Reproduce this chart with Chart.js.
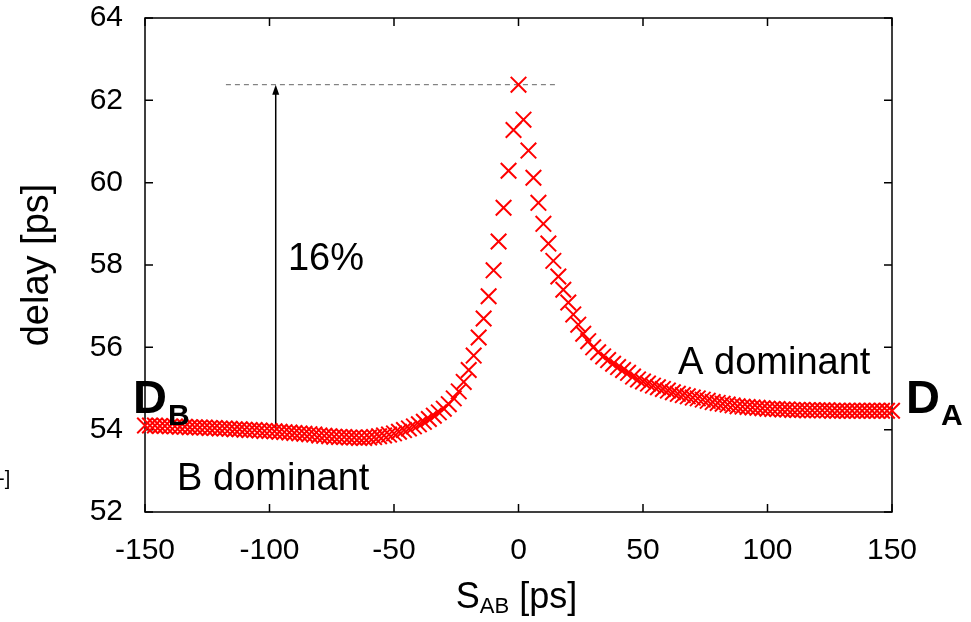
<!DOCTYPE html>
<html>
<head>
<meta charset="utf-8">
<script src="https://cdn.jsdelivr.net/npm/chart.js@4"></script>
<style>
  body { margin: 0; background: #fff; }
  #wrap { width: 971px; height: 622px; position: relative; }
</style>
</head>
<body>
<div id="wrap"><canvas id="delayChart"></canvas></div>
<script>
// skew S_AB [ps]
var skewValues = [
    -150, -148, -146, -144, -142, -140, -138, -136, -134, -132,
    -130, -128, -126, -124, -122, -120, -118, -116, -114, -112,
    -110, -108, -106, -104, -102, -100, -98, -96, -94, -92,
    -90, -88, -86, -84, -82, -80, -78, -76, -74, -72,
    -70, -68, -66, -64, -62, -60, -58, -56, -54, -52,
    -50, -48, -46, -44, -42, -40, -38, -36, -34, -32,
    -30, -28, -26, -24, -22, -20, -18, -16, -14, -12,
    -10, -8, -6, -4, -2, 0, 2, 4, 6, 8,
    10, 12, 14, 16, 18, 20, 22, 24, 26, 28,
    30, 32, 34, 36, 38, 40, 42, 44, 46, 48,
    50, 52, 54, 56, 58, 60, 62, 64, 66, 68,
    70, 72, 74, 76, 78, 80, 82, 84, 86, 88,
    90, 92, 94, 96, 98, 100, 102, 104, 106, 108,
    110, 112, 114, 116, 118, 120, 122, 124, 126, 128,
    130, 132, 134, 136, 138, 140, 142, 144, 146, 148,
    150
];

// delay [ps]
var delayValues = [
    54.10, 54.10, 54.10, 54.09, 54.09, 54.08, 54.08, 54.07, 54.07, 54.06,
    54.06, 54.05, 54.05, 54.04, 54.04, 54.03, 54.03, 54.02, 54.01, 54.01,
    54.00, 53.99, 53.99, 53.98, 53.97, 53.97, 53.96, 53.95, 53.94, 53.93,
    53.92, 53.91, 53.90, 53.89, 53.88, 53.86, 53.85, 53.84, 53.83, 53.82,
    53.82, 53.81, 53.81, 53.80, 53.80, 53.81, 53.82, 53.84, 53.86, 53.88,
    53.91, 53.95, 53.99, 54.03, 54.08, 54.13, 54.19, 54.26, 54.34, 54.42,
    54.51, 54.62, 54.76, 54.93, 55.16, 55.45, 55.80, 56.24, 56.70, 57.24,
    57.87, 58.57, 59.39, 60.29, 61.28, 62.38, 61.53, 60.78, 60.12, 59.51,
    59.00, 58.52, 58.10, 57.72, 57.40, 57.09, 56.80, 56.55, 56.33, 56.15,
    56.00, 55.88, 55.78, 55.69, 55.60, 55.52, 55.45, 55.38, 55.29, 55.22,
    55.17, 55.12, 55.07, 55.03, 54.99, 54.95, 54.91, 54.87, 54.84, 54.81,
    54.78, 54.76, 54.73, 54.70, 54.67, 54.65, 54.63, 54.61, 54.59, 54.57,
    54.56, 54.55, 54.54, 54.53, 54.52, 54.51, 54.50, 54.50, 54.49, 54.49,
    54.48, 54.48, 54.48, 54.47, 54.47, 54.47, 54.47, 54.47, 54.46, 54.46,
    54.46, 54.46, 54.46, 54.46, 54.46, 54.46, 54.46, 54.46, 54.46, 54.46,
    54.46
];

var xTicks = [-150, -100, -50, 0, 50, 100, 150];
var yTicks = [52, 54, 56, 58, 60, 62, 64];

var peakDelay = 62.38;
var baseDelay = 54.0;
var arrowSkew = -97.5;

var FONT = '"Liberation Sans", Arial, sans-serif';

var points = skewValues.map(function (x, i) { return { x: x, y: delayValues[i] }; });

// frame, inward ticks, arrow and labels (gnuplot look)
var decorations = {
    id: "decorations",
    beforeDatasetsDraw: function (chart) {
        var ctx = chart.ctx, a = chart.chartArea;
        var xs = chart.scales.x, ys = chart.scales.y;
        ctx.save();
        ctx.strokeStyle = "#000";
        ctx.lineWidth = 1.5;
        ctx.strokeRect(a.left, a.top, a.right - a.left, a.bottom - a.top);
        xTicks.forEach(function (t) {
            var px = xs.getPixelForValue(t);
            ctx.beginPath();
            ctx.moveTo(px, a.bottom); ctx.lineTo(px, a.bottom - 8);
            ctx.moveTo(px, a.top); ctx.lineTo(px, a.top + 8);
            ctx.stroke();
        });
        yTicks.forEach(function (t) {
            var py = ys.getPixelForValue(t);
            ctx.beginPath();
            ctx.moveTo(a.left, py); ctx.lineTo(a.left + 8, py);
            ctx.moveTo(a.right, py); ctx.lineTo(a.right - 8, py);
            ctx.stroke();
        });

        // dashed peak level
        var py = ys.getPixelForValue(peakDelay);
        ctx.strokeStyle = "#666";
        ctx.lineWidth = 1;
        ctx.setLineDash([5, 4]);
        ctx.beginPath();
        ctx.moveTo(xs.getPixelForValue(-117.5), py);
        ctx.lineTo(xs.getPixelForValue(16), py);
        ctx.stroke();
        ctx.setLineDash([]);

        // arrow
        var ax = xs.getPixelForValue(arrowSkew);
        var y0 = ys.getPixelForValue(baseDelay);
        ctx.strokeStyle = "#000";
        ctx.lineWidth = 1.5;
        ctx.beginPath();
        ctx.moveTo(ax, y0); ctx.lineTo(ax, py + 4);
        ctx.stroke();
        ctx.fillStyle = "#000";
        ctx.beginPath();
        ctx.moveTo(ax, py);
        ctx.lineTo(ax - 3.5, py + 10);
        ctx.lineTo(ax + 3.5, py + 10);
        ctx.closePath();
        ctx.fill();
        ctx.restore();
    },
    afterDraw: function (chart) {
        var ctx = chart.ctx, a = chart.chartArea;
        var xs = chart.scales.x, ys = chart.scales.y;
        ctx.save();
        ctx.fillStyle = "#000";
        ctx.textBaseline = "alphabetic";
        ctx.textAlign = "left";

        ctx.font = "38px " + FONT;
        ctx.fillText("16%", xs.getPixelForValue(-92.6), ys.getPixelForValue(57.88));
        ctx.fillText("B dominant", xs.getPixelForValue(-137.1), ys.getPixelForValue(52.53));
        ctx.fillText("A dominant", xs.getPixelForValue(64.1), ys.getPixelForValue(55.35));

        // D_B and D_A
        function subLabel(main, sub, x, y) {
            ctx.font = "bold 47px " + FONT;
            ctx.fillText(main, x, y);
            var w = ctx.measureText(main).width;
            ctx.font = "bold 30px " + FONT;
            ctx.fillText(sub, x + w + 1, y + 12);
        }
        var yD = ys.getPixelForValue(54.4);
        subLabel("D", "B", xs.getPixelForValue(-150) - 12, yD);
        subLabel("D", "A", xs.getPixelForValue(150) + 14, yD);

        // x axis title S_AB [ps]
        ctx.font = "36px " + FONT;
        var wS = ctx.measureText("S").width;
        var wR = ctx.measureText(" [ps]").width;
        ctx.font = "22px " + FONT;
        var wAB = ctx.measureText("AB").width;
        var total = wS + wAB + wR;
        var cx = (a.left + a.right) / 2 - 2;
        var x0 = cx - total / 2;
        var by = 608;
        ctx.font = "36px " + FONT;
        ctx.fillText("S", x0, by);
        ctx.font = "22px " + FONT;
        ctx.fillText("AB", x0 + wS, by + 5);
        ctx.font = "36px " + FONT;
        ctx.fillText(" [ps]", x0 + wS + wAB, by);

        // stray bracket at the left edge
        ctx.font = "20px " + FONT;
        ctx.fillText("-]", -2, 485);
        ctx.restore();
    }
};

var ctx = document.getElementById("delayChart").getContext("2d");
new Chart(ctx, {
    type: "scatter",
    data: {
        datasets: [{
            data: points,
            showLine: false,
            pointStyle: "crossRot",
            pointRadius: 11,
            pointHoverRadius: 11,
            pointBorderWidth: 2,
            borderColor: "#ff0000",
            backgroundColor: "#ff0000",
            clip: false
        }]
    },
    options: {
        responsive: true,
        maintainAspectRatio: false,
        animation: false,
        events: [],
        layout: { padding: { top: 18, right: 79, left: 0, bottom: 0 } },
        plugins: {
            legend: { display: false },
            tooltip: { enabled: false }
        },
        scales: {
            x: {
                type: "linear",
                min: -150,
                max: 150,
                afterBuildTicks: function (s) { s.ticks = xTicks.map(function (v) { return { value: v }; }); },
                afterFit: function (s) { s.height = 110; s.paddingLeft = 0; s.paddingRight = 0; },
                grid: { display: false, drawTicks: false },
                border: { display: false },
                ticks: {
                    padding: 21,
                    color: "#000",
                    font: { family: FONT, size: 30 },
                    maxRotation: 0
                }
            },
            y: {
                type: "linear",
                min: 52,
                max: 64,
                afterBuildTicks: function (s) { s.ticks = yTicks.map(function (v) { return { value: v }; }); },
                afterFit: function (s) { s.width = 145; s.paddingTop = 0; s.paddingBottom = 0; },
                grid: { display: false, drawTicks: false },
                border: { display: false },
                ticks: {
                    padding: 22,
                    color: "#000",
                    font: { family: FONT, size: 30 }
                },
                title: {
                    display: true,
                    text: "delay [ps]",
                    color: "#000",
                    font: { family: FONT, size: 38 },
                    padding: { top: 15, bottom: 0 }
                }
            }
        }
    },
    plugins: [decorations]
});
</script>
</body>
</html>
